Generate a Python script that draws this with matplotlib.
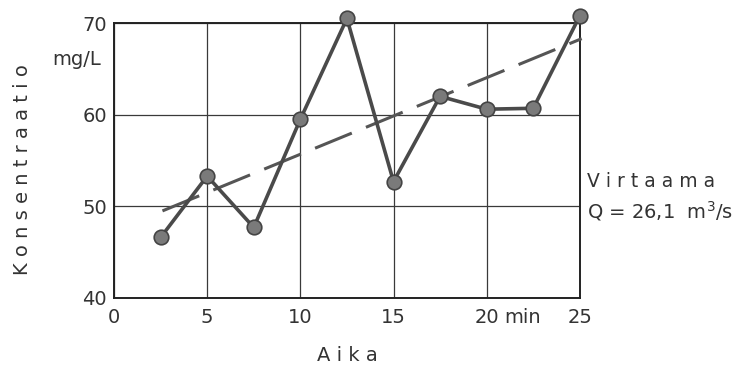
import numpy as np
import matplotlib.pyplot as plt

# concentration samples over time
aika = [2.5, 5, 7.5, 10, 12.5, 15, 17.5, 20, 22.5, 25]
konsentraatio = [46.6, 53.3, 47.7, 59.5, 70.5, 52.7, 62.0, 60.6, 60.7, 70.8]

# fitted trend (end points)
trend_x = [2.6, 25.1]
trend_y = [49.5, 68.3]

x_ticks = [0, 5, 10, 15, 20, 25]
y_ticks = [40, 50, 60, 70]

plt.rcParams['font.family'] = ['DejaVu Sans']
fig = plt.figure(figsize=(7.55, 3.72), dpi=100)
ax = fig.add_axes([0.151, 0.199, 0.617, 0.739])

ax.set_xlim(0, 25)
ax.set_ylim(40, 70)
ax.set_xticks(x_ticks)
ax.set_yticks(y_ticks)
ax.set_xticklabels([str(t) for t in x_ticks])
ax.tick_params(length=0, labelsize=14, colors='#333333')
ax.tick_params(axis='x', pad=7)
ax.tick_params(axis='y', pad=5)
ax.grid(True, color='#3a3a3a', linewidth=0.9)
ax.set_axisbelow(True)
for sp in ax.spines.values():
    sp.set_color('#222222')
    sp.set_linewidth(1.4)

ax.plot(trend_x, trend_y, color='#555555', linewidth=2.2,
        dashes=(13, 5), clip_on=False, zorder=3)
ax.plot(aika, konsentraatio, color='#4a4a4a', linewidth=2.6,
        marker='o', markersize=10.5, markerfacecolor='#7a7a7a',
        markeredgecolor='#444444', markeredgewidth=1.2,
        clip_on=False, zorder=4)

# unit next to the 20 tick
ax.annotate('min', xy=(21.9, 0), xycoords=('data', 'axes fraction'),
            xytext=(0, -7), textcoords='offset points',
            fontsize=14, color='#333333', ha='center', va='top')
ax.text(-0.7, 66.0, 'mg/L', fontsize=14, color='#333333',
        ha='right', va='center')
fig.text(0.03, 0.545, 'K o n s e n t r a a t i o', rotation=90,
         fontsize=14, color='#333333', ha='center', va='center')
fig.text(0.46, 0.045, 'A i k a', fontsize=14, color='#333333',
         ha='center', va='center')
fig.text(0.778, 0.513, 'V i r t a a m a', fontsize=13.5, color='#333333',
         ha='left', va='center')
fig.text(0.778, 0.432, 'Q = 26,1  m$^3$/s', fontsize=14, color='#333333',
         ha='left', va='center')

fig.savefig('out.png', dpi=100, facecolor='white')
